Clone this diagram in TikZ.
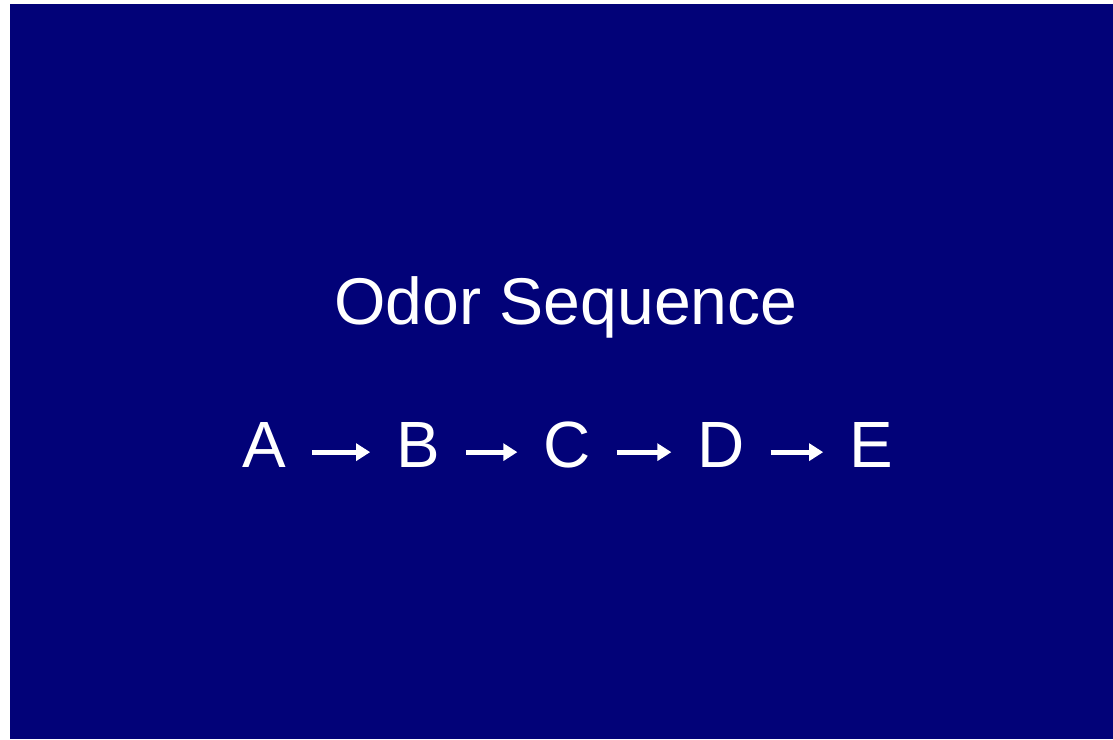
\documentclass[tikz,border=0pt]{standalone}
\usepackage{fontspec}
\setmainfont{Liberation Sans}
\usepackage{xcolor}
\usepackage{tikz}
\usetikzlibrary{arrows.meta, positioning}
\definecolor{slideblue}{RGB}{2, 2, 120}

\begin{document}
\begin{tikzpicture}[
  x=0.01cm, y=-0.01cm,
  heading/.style={text=white, font=\fontsize{18.8pt}{22pt}\selectfont, anchor=base, inner sep=0pt},
  letter/.style={text=white, font=\fontsize{18.6pt}{22pt}\selectfont, anchor=base,
                 inner xsep=7.2pt, inner ysep=0pt, text height=1.6ex, text depth=0pt},
  arrow/.style={-{Triangle[length=4pt, width=4.8pt]}, line width=1.4pt, white}
]
  \useasboundingbox (0,0) rectangle (1113,739);
  \fill[white] (0,0) rectangle (1113,739);
  \fill[slideblue] (10,4) rectangle (1113,739);

  \node[heading] (title) at (566,324) {Odor Sequence};

  \node[letter] (a) at (264,467) {A};
  \node[letter] (b) at (418,467) {B};
  \node[letter] (c) at (567,467) {C};
  \node[letter] (d) at (721,467) {D};
  \node[letter] (e) at (871,467) {E};

  \draw[arrow] (a) -- (b);
  \draw[arrow] (b) -- (c);
  \draw[arrow] (c) -- (d);
  \draw[arrow] (d) -- (e);
\end{tikzpicture}
\end{document}
